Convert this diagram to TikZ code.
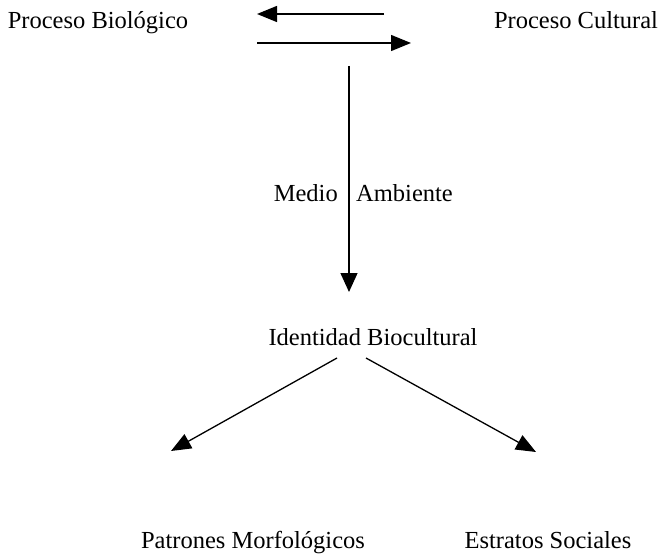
\documentclass[tikz,border=0pt]{standalone}
\usepackage{fontspec}
\setmainfont{Liberation Serif}
\usetikzlibrary{arrows.meta}
\begin{document}
\begin{tikzpicture}[x=1pt,y=-1pt,
  lbl/.style={inner sep=0pt,font=\fontsize{24.5}{28}\selectfont,anchor=base},
  arr/.style={line width=1.3pt,-{Triangle[length=20pt,width=16pt]}}]
\useasboundingbox (0,0) rectangle (662,559);
% labels
\node[lbl] (bio) at (98,29) {Proceso Biológico};
\node[lbl] (cul) at (576,29) {Proceso Cultural};
\node[lbl,anchor=base east] (medio) at (338,202) {Medio};
\node[lbl,anchor=base west] (amb) at (356,202) {Ambiente};
\node[lbl] (idb) at (373,345) {Identidad Biocultural};
\node[lbl] (pm) at (253,548) {Patrones Morfológicos};
\node[lbl] (es) at (548,548) {Estratos Sociales};
% connector end points
\coordinate (c1a) at (384,14);
\coordinate (c1b) at (257,14);
\coordinate (c2a) at (257,43);
\coordinate (c2b) at (411,43);
\coordinate (vtop) at (349,66);
\coordinate (vbot) at (349,292);
\coordinate (la) at (337,358);
\coordinate (lb) at (171,451);
\coordinate (ra) at (366,358);
\coordinate (rb) at (536,452);
% connectors
\draw[arr] (c1a) -- (c1b);
\draw[arr] (c2a) -- (c2b);
\draw[arr,-{Triangle[length=19pt,width=17pt]}] (vtop) -- (vbot);
\draw[arr] (la) -- (lb);
\draw[arr] (ra) -- (rb);
\end{tikzpicture}
\end{document}
